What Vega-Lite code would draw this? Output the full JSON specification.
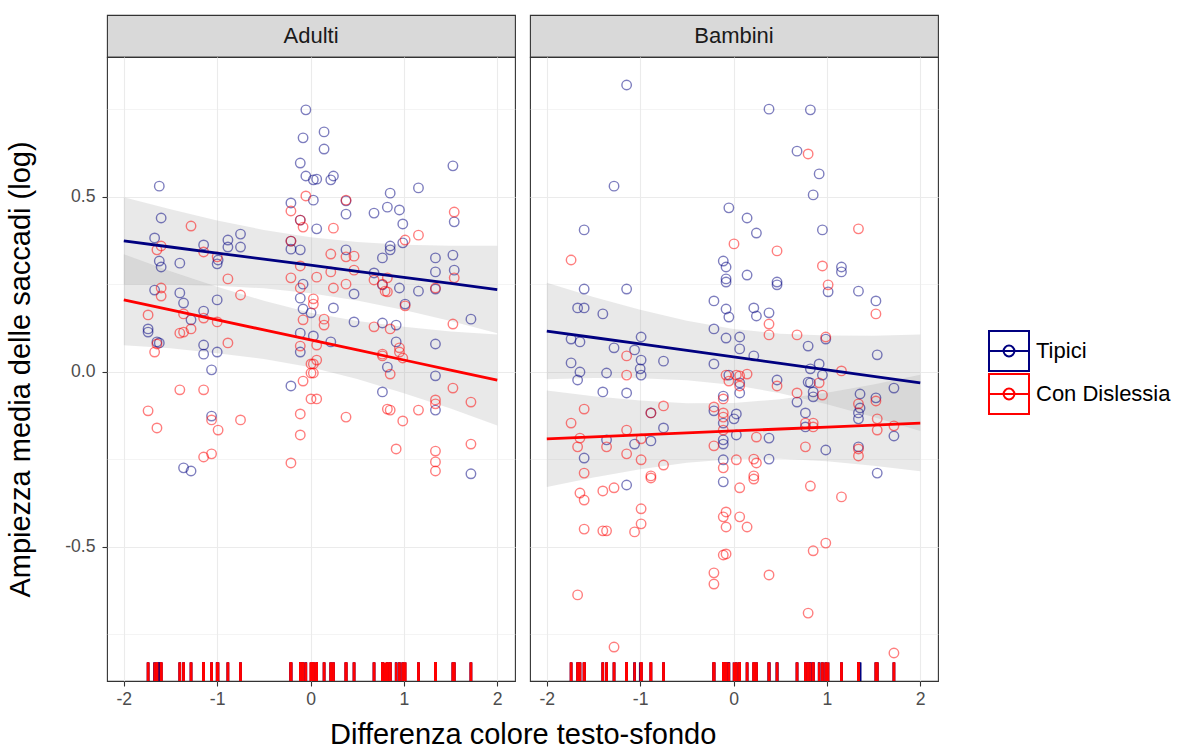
{
"$schema": "https://vega.github.io/schema/vega-lite/v6.json",
"padding": {"left": 6, "top": 14, "right": 4, "bottom": 6},
"config": {
  "font": "Liberation Sans",
  "view": {"stroke": "#333333", "strokeWidth": 1.1},
  "axis": {"grid": true, "gridColor": "#EBEBEB", "domain": false, "tickColor": "#333333", "tickSize": 5, "tickWidth": 1.1, "labelColor": "#4D4D4D", "labelFontSize": 17.6, "titleColor": "#000000", "titleFontSize": 29, "titleFontWeight": "normal"}
},
"title": {"text": "Differenza colore testo-sfondo", "orient": "bottom", "anchor": "start", "frame": "group", "dx": 223, "fontSize": 29, "fontWeight": "normal", "color": "#000000", "offset": 13},
"resolve": {"scale": {"color": "shared"}, "legend": {"color": "shared"}},
"spacing": 13,
"datasets": {
"fit_adulti": [
{"gruppo":"Tipici","x":-2,"fit":0.3745,"lo":0.2495,"hi":0.4995},
{"gruppo":"Tipici","x":-1.5,"fit":0.3571,"lo":0.2495,"hi":0.4647},
{"gruppo":"Tipici","x":-1,"fit":0.3398,"lo":0.2465,"hi":0.4331},
{"gruppo":"Tipici","x":-0.5,"fit":0.3224,"lo":0.2389,"hi":0.4059},
{"gruppo":"Tipici","x":0,"fit":0.305,"lo":0.225,"hi":0.385},
{"gruppo":"Tipici","x":0.5,"fit":0.2876,"lo":0.2041,"hi":0.3711},
{"gruppo":"Tipici","x":1,"fit":0.2703,"lo":0.177,"hi":0.3636},
{"gruppo":"Tipici","x":1.5,"fit":0.2529,"lo":0.1453,"hi":0.3605},
{"gruppo":"Tipici","x":2,"fit":0.2355,"lo":0.1105,"hi":0.3605},
{"gruppo":"Con Dislessia","x":-2,"fit":0.2061,"lo":0.0761,"hi":0.3361},
{"gruppo":"Con Dislessia","x":-1.5,"fit":0.1775,"lo":0.0675,"hi":0.2875},
{"gruppo":"Con Dislessia","x":-1,"fit":0.1488,"lo":0.0538,"hi":0.2438},
{"gruppo":"Con Dislessia","x":-0.5,"fit":0.1202,"lo":0.0372,"hi":0.2032},
{"gruppo":"Con Dislessia","x":0,"fit":0.0915,"lo":0.0135,"hi":0.1695},
{"gruppo":"Con Dislessia","x":0.5,"fit":0.0629,"lo":-0.0201,"hi":0.1459},
{"gruppo":"Con Dislessia","x":1,"fit":0.0342,"lo":-0.0608,"hi":0.1292},
{"gruppo":"Con Dislessia","x":1.5,"fit":0.0056,"lo":-0.1044,"hi":0.1156},
{"gruppo":"Con Dislessia","x":2,"fit":-0.0231,"lo":-0.1531,"hi":0.1069}
],
"fit_bambini": [
{"gruppo":"Tipici","x":-2,"fit":0.117,"lo":-0.021,"hi":0.255},
{"gruppo":"Tipici","x":-1.5,"fit":0.0985,"lo":-0.0175,"hi":0.2145},
{"gruppo":"Tipici","x":-1,"fit":0.08,"lo":-0.018,"hi":0.178},
{"gruppo":"Tipici","x":-0.5,"fit":0.0615,"lo":-0.0235,"hi":0.1465},
{"gruppo":"Tipici","x":0,"fit":0.043,"lo":-0.037,"hi":0.123},
{"gruppo":"Tipici","x":0.5,"fit":0.0245,"lo":-0.0605,"hi":0.1095},
{"gruppo":"Tipici","x":1,"fit":0.006,"lo":-0.092,"hi":0.104},
{"gruppo":"Tipici","x":1.5,"fit":-0.0125,"lo":-0.1285,"hi":0.1035},
{"gruppo":"Tipici","x":2,"fit":-0.031,"lo":-0.169,"hi":0.107},
{"gruppo":"Con Dislessia","x":-2,"fit":-0.191,"lo":-0.329,"hi":-0.053},
{"gruppo":"Con Dislessia","x":-1.5,"fit":-0.1854,"lo":-0.3014,"hi":-0.0694},
{"gruppo":"Con Dislessia","x":-1,"fit":-0.1798,"lo":-0.2778,"hi":-0.0818},
{"gruppo":"Con Dislessia","x":-0.5,"fit":-0.1741,"lo":-0.2591,"hi":-0.0891},
{"gruppo":"Con Dislessia","x":0,"fit":-0.1685,"lo":-0.2485,"hi":-0.0885},
{"gruppo":"Con Dislessia","x":0.5,"fit":-0.1629,"lo":-0.2479,"hi":-0.0779},
{"gruppo":"Con Dislessia","x":1,"fit":-0.1573,"lo":-0.2553,"hi":-0.0593},
{"gruppo":"Con Dislessia","x":1.5,"fit":-0.1516,"lo":-0.2676,"hi":-0.0356},
{"gruppo":"Con Dislessia","x":2,"fit":-0.146,"lo":-0.284,"hi":-0.008}
],
"adulti": [
{"gruppo":"Tipici","x":-1.62,"y":0.531},{"gruppo":"Tipici","x":-1.6,"y":0.44},{"gruppo":"Tipici","x":-1.67,"y":0.383},{"gruppo":"Tipici","x":-1.62,"y":0.317},{"gruppo":"Tipici","x":-1.6,"y":0.3},{"gruppo":"Tipici","x":-1.4,"y":0.311},{"gruppo":"Tipici","x":-1.145,"y":0.363},{"gruppo":"Tipici","x":-0.99,"y":0.32},{"gruppo":"Tipici","x":-1.0,"y":0.309},{"gruppo":"Tipici","x":-0.885,"y":0.377},{"gruppo":"Tipici","x":-0.885,"y":0.357},{"gruppo":"Tipici","x":-0.75,"y":0.394},{"gruppo":"Tipici","x":-0.75,"y":0.357},{"gruppo":"Tipici","x":-0.05,"y":0.749},{"gruppo":"Tipici","x":-0.08,"y":0.669},{"gruppo":"Tipici","x":-0.11,"y":0.597},{"gruppo":"Tipici","x":-0.05,"y":0.56},{"gruppo":"Tipici","x":-0.21,"y":0.483},{"gruppo":"Tipici","x":-0.11,"y":0.434},{"gruppo":"Tipici","x":-0.21,"y":0.351},{"gruppo":"Tipici","x":-0.11,"y":0.349},{"gruppo":"Tipici","x":-0.08,"y":0.251},{"gruppo":"Tipici","x":-0.21,"y":0.374},{"gruppo":"Tipici","x":0.145,"y":0.686},{"gruppo":"Tipici","x":0.145,"y":0.637},{"gruppo":"Tipici","x":0.066,"y":0.551},{"gruppo":"Tipici","x":0.03,"y":0.549},{"gruppo":"Tipici","x":0.217,"y":0.549},{"gruppo":"Tipici","x":0.245,"y":0.56},{"gruppo":"Tipici","x":0.03,"y":0.491},{"gruppo":"Tipici","x":0.38,"y":0.489},{"gruppo":"Tipici","x":0.38,"y":0.451},{"gruppo":"Tipici","x":0.68,"y":0.454},{"gruppo":"Tipici","x":0.823,"y":0.471},{"gruppo":"Tipici","x":0.853,"y":0.511},{"gruppo":"Tipici","x":0.952,"y":0.463},{"gruppo":"Tipici","x":0.988,"y":0.423},{"gruppo":"Tipici","x":1.156,"y":0.526},{"gruppo":"Tipici","x":1.525,"y":0.589},{"gruppo":"Tipici","x":1.539,"y":0.429},{"gruppo":"Tipici","x":0.066,"y":0.409},{"gruppo":"Tipici","x":0.853,"y":0.36},{"gruppo":"Tipici","x":0.853,"y":0.349},{"gruppo":"Tipici","x":0.77,"y":0.326},{"gruppo":"Tipici","x":0.988,"y":0.369},{"gruppo":"Tipici","x":0.38,"y":0.349},{"gruppo":"Tipici","x":1.338,"y":0.326},{"gruppo":"Tipici","x":1.525,"y":0.334},{"gruppo":"Tipici","x":1.338,"y":0.286},{"gruppo":"Tipici","x":1.539,"y":0.291},{"gruppo":"Tipici","x":0.68,"y":0.283},{"gruppo":"Tipici","x":-1.67,"y":0.234},{"gruppo":"Tipici","x":-1.4,"y":0.226},{"gruppo":"Tipici","x":-1.36,"y":0.197},{"gruppo":"Tipici","x":-1.0,"y":0.206},{"gruppo":"Tipici","x":-1.74,"y":0.123},{"gruppo":"Tipici","x":-1.74,"y":0.114},{"gruppo":"Tipici","x":-1.645,"y":0.086},{"gruppo":"Tipici","x":-1.62,"y":0.083},{"gruppo":"Tipici","x":-1.28,"y":0.149},{"gruppo":"Tipici","x":-1.145,"y":0.174},{"gruppo":"Tipici","x":-1.145,"y":0.077},{"gruppo":"Tipici","x":-1.145,"y":0.051},{"gruppo":"Tipici","x":-1.0,"y":0.057},{"gruppo":"Tipici","x":-1.06,"y":0.006},{"gruppo":"Tipici","x":-1.06,"y":-0.126},{"gruppo":"Tipici","x":-1.36,"y":-0.274},{"gruppo":"Tipici","x":-1.28,"y":-0.283},{"gruppo":"Tipici","x":-0.21,"y":-0.04},{"gruppo":"Tipici","x":-0.11,"y":0.111},{"gruppo":"Tipici","x":-0.08,"y":0.18},{"gruppo":"Tipici","x":-0.11,"y":0.211},{"gruppo":"Tipici","x":-0.11,"y":0.057},{"gruppo":"Tipici","x":1.718,"y":0.151},{"gruppo":"Tipici","x":1.338,"y":0.08},{"gruppo":"Tipici","x":1.338,"y":-0.011},{"gruppo":"Tipici","x":1.338,"y":-0.109},{"gruppo":"Tipici","x":0.77,"y":-0.057},{"gruppo":"Tipici","x":1.718,"y":-0.291},{"gruppo":"Tipici","x":0.917,"y":0.134},{"gruppo":"Tipici","x":0.77,"y":0.14},{"gruppo":"Tipici","x":0.466,"y":0.143},{"gruppo":"Tipici","x":0.245,"y":0.183},{"gruppo":"Tipici","x":0.466,"y":0.223},{"gruppo":"Tipici","x":1.013,"y":0.194},{"gruppo":"Tipici","x":1.156,"y":0.231},{"gruppo":"Tipici","x":1.338,"y":0.237},{"gruppo":"Tipici","x":0.917,"y":0.086},{"gruppo":"Tipici","x":0.823,"y":0.014},{"gruppo":"Tipici","x":0.217,"y":0.086},{"gruppo":"Tipici","x":0.03,"y":0.103},{"gruppo":"Tipici","x":0.005,"y":0.169},{"gruppo":"Tipici","x":0.77,"y":0.249},{"gruppo":"Tipici","x":0.952,"y":0.24},
{"gruppo":"Con Dislessia","x":-1.6,"y":0.36},{"gruppo":"Con Dislessia","x":-1.645,"y":0.349},{"gruppo":"Con Dislessia","x":-1.28,"y":0.417},{"gruppo":"Con Dislessia","x":-1.145,"y":0.343},{"gruppo":"Con Dislessia","x":-1.0,"y":0.329},{"gruppo":"Con Dislessia","x":-0.885,"y":0.266},{"gruppo":"Con Dislessia","x":-0.05,"y":0.503},{"gruppo":"Con Dislessia","x":-0.21,"y":0.46},{"gruppo":"Con Dislessia","x":-0.11,"y":0.434},{"gruppo":"Con Dislessia","x":-0.08,"y":0.414},{"gruppo":"Con Dislessia","x":-0.21,"y":0.374},{"gruppo":"Con Dislessia","x":-0.11,"y":0.303},{"gruppo":"Con Dislessia","x":-0.21,"y":0.269},{"gruppo":"Con Dislessia","x":0.38,"y":0.491},{"gruppo":"Con Dislessia","x":1.539,"y":0.457},{"gruppo":"Con Dislessia","x":0.245,"y":0.411},{"gruppo":"Con Dislessia","x":1.013,"y":0.377},{"gruppo":"Con Dislessia","x":1.156,"y":0.391},{"gruppo":"Con Dislessia","x":0.217,"y":0.337},{"gruppo":"Con Dislessia","x":0.38,"y":0.329},{"gruppo":"Con Dislessia","x":0.466,"y":0.331},{"gruppo":"Con Dislessia","x":1.539,"y":0.269},{"gruppo":"Con Dislessia","x":0.466,"y":0.291},{"gruppo":"Con Dislessia","x":0.217,"y":0.286},{"gruppo":"Con Dislessia","x":0.066,"y":0.271},{"gruppo":"Con Dislessia","x":0.68,"y":0.263},{"gruppo":"Con Dislessia","x":0.823,"y":0.269},{"gruppo":"Con Dislessia","x":0.77,"y":0.251},{"gruppo":"Con Dislessia","x":-1.6,"y":0.24},{"gruppo":"Con Dislessia","x":-1.6,"y":0.217},{"gruppo":"Con Dislessia","x":-0.75,"y":0.22},{"gruppo":"Con Dislessia","x":-1.74,"y":0.163},{"gruppo":"Con Dislessia","x":-1.645,"y":0.08},{"gruppo":"Con Dislessia","x":-1.67,"y":0.057},{"gruppo":"Con Dislessia","x":-1.4,"y":0.111},{"gruppo":"Con Dislessia","x":-1.36,"y":0.114},{"gruppo":"Con Dislessia","x":-1.28,"y":0.123},{"gruppo":"Con Dislessia","x":-1.36,"y":0.166},{"gruppo":"Con Dislessia","x":-1.145,"y":0.154},{"gruppo":"Con Dislessia","x":-1.0,"y":0.143},{"gruppo":"Con Dislessia","x":-0.885,"y":0.083},{"gruppo":"Con Dislessia","x":-1.4,"y":-0.051},{"gruppo":"Con Dislessia","x":-1.145,"y":-0.051},{"gruppo":"Con Dislessia","x":-1.74,"y":-0.111},{"gruppo":"Con Dislessia","x":-1.645,"y":-0.16},{"gruppo":"Con Dislessia","x":-1.06,"y":-0.137},{"gruppo":"Con Dislessia","x":-0.99,"y":-0.166},{"gruppo":"Con Dislessia","x":-0.75,"y":-0.137},{"gruppo":"Con Dislessia","x":-1.145,"y":-0.243},{"gruppo":"Con Dislessia","x":-1.06,"y":-0.234},{"gruppo":"Con Dislessia","x":-0.11,"y":-0.12},{"gruppo":"Con Dislessia","x":-0.11,"y":-0.18},{"gruppo":"Con Dislessia","x":-0.21,"y":-0.26},{"gruppo":"Con Dislessia","x":-0.08,"y":-0.026},{"gruppo":"Con Dislessia","x":0.005,"y":-0.003},{"gruppo":"Con Dislessia","x":0.005,"y":0.023},{"gruppo":"Con Dislessia","x":-0.08,"y":0.149},{"gruppo":"Con Dislessia","x":-0.11,"y":0.074},{"gruppo":"Con Dislessia","x":-0.11,"y":0.24},{"gruppo":"Con Dislessia","x":0.005,"y":-0.077},{"gruppo":"Con Dislessia","x":1.525,"y":0.137},{"gruppo":"Con Dislessia","x":1.525,"y":-0.046},{"gruppo":"Con Dislessia","x":1.718,"y":-0.086},{"gruppo":"Con Dislessia","x":1.338,"y":-0.08},{"gruppo":"Con Dislessia","x":1.338,"y":-0.091},{"gruppo":"Con Dislessia","x":1.156,"y":-0.109},{"gruppo":"Con Dislessia","x":0.988,"y":-0.14},{"gruppo":"Con Dislessia","x":0.823,"y":-0.106},{"gruppo":"Con Dislessia","x":0.853,"y":-0.109},{"gruppo":"Con Dislessia","x":1.718,"y":-0.206},{"gruppo":"Con Dislessia","x":1.338,"y":-0.226},{"gruppo":"Con Dislessia","x":1.338,"y":-0.257},{"gruppo":"Con Dislessia","x":1.338,"y":-0.283},{"gruppo":"Con Dislessia","x":0.917,"y":-0.22},{"gruppo":"Con Dislessia","x":0.38,"y":-0.129},{"gruppo":"Con Dislessia","x":0.066,"y":-0.077},{"gruppo":"Con Dislessia","x":0.853,"y":0.123},{"gruppo":"Con Dislessia","x":0.68,"y":0.129},{"gruppo":"Con Dislessia","x":1.013,"y":0.189},{"gruppo":"Con Dislessia","x":0.952,"y":0.069},{"gruppo":"Con Dislessia","x":0.952,"y":0.057},{"gruppo":"Con Dislessia","x":0.988,"y":0.04},{"gruppo":"Con Dislessia","x":0.77,"y":0.051},{"gruppo":"Con Dislessia","x":0.77,"y":0.046},{"gruppo":"Con Dislessia","x":0.853,"y":-0.006},{"gruppo":"Con Dislessia","x":0.066,"y":0.077},{"gruppo":"Con Dislessia","x":0.066,"y":0.034},{"gruppo":"Con Dislessia","x":0.03,"y":0.023},{"gruppo":"Con Dislessia","x":0.03,"y":-0.003},{"gruppo":"Con Dislessia","x":0.145,"y":0.151},{"gruppo":"Con Dislessia","x":0.145,"y":0.134},{"gruppo":"Con Dislessia","x":0.03,"y":0.209},{"gruppo":"Con Dislessia","x":0.03,"y":0.194},{"gruppo":"Con Dislessia","x":0.245,"y":0.24},{"gruppo":"Con Dislessia","x":0.38,"y":0.251},{"gruppo":"Con Dislessia","x":0.799,"y":0.231},{"gruppo":"Con Dislessia","x":0.823,"y":0.229},{"gruppo":"Con Dislessia","x":1.338,"y":0.24}
],
"bambini": [
{"gruppo":"Tipici","x":-1.145,"y":0.82},{"gruppo":"Tipici","x":-1.28,"y":0.531},{"gruppo":"Tipici","x":-1.6,"y":0.406},{"gruppo":"Tipici","x":-0.05,"y":0.469},{"gruppo":"Tipici","x":-0.11,"y":0.317},{"gruppo":"Tipici","x":-0.08,"y":0.3},{"gruppo":"Tipici","x":-0.08,"y":0.266},{"gruppo":"Tipici","x":0.38,"y":0.751},{"gruppo":"Tipici","x":0.823,"y":0.749},{"gruppo":"Tipici","x":0.68,"y":0.631},{"gruppo":"Tipici","x":0.917,"y":0.566},{"gruppo":"Tipici","x":0.853,"y":0.506},{"gruppo":"Tipici","x":0.145,"y":0.44},{"gruppo":"Tipici","x":0.245,"y":0.397},{"gruppo":"Tipici","x":0.952,"y":0.406},{"gruppo":"Tipici","x":1.156,"y":0.3},{"gruppo":"Tipici","x":1.156,"y":0.286},{"gruppo":"Tipici","x":0.145,"y":0.277},{"gruppo":"Tipici","x":0.466,"y":0.257},{"gruppo":"Tipici","x":-1.6,"y":0.237},{"gruppo":"Tipici","x":-1.145,"y":0.237},{"gruppo":"Tipici","x":-1.67,"y":0.183},{"gruppo":"Tipici","x":-1.6,"y":0.183},{"gruppo":"Tipici","x":-1.4,"y":0.166},{"gruppo":"Tipici","x":-1.74,"y":0.094},{"gruppo":"Tipici","x":-1.645,"y":0.086},{"gruppo":"Tipici","x":-0.99,"y":0.1},{"gruppo":"Tipici","x":-1.28,"y":0.069},{"gruppo":"Tipici","x":-1.06,"y":0.063},{"gruppo":"Tipici","x":-0.99,"y":0.034},{"gruppo":"Tipici","x":-0.75,"y":0.031},{"gruppo":"Tipici","x":-1.74,"y":0.026},{"gruppo":"Tipici","x":-1.645,"y":0.0},{"gruppo":"Tipici","x":-1.67,"y":-0.023},{"gruppo":"Tipici","x":-1.36,"y":-0.003},{"gruppo":"Tipici","x":-1.0,"y":0.009},{"gruppo":"Tipici","x":-0.99,"y":-0.009},{"gruppo":"Tipici","x":-1.4,"y":-0.057},{"gruppo":"Tipici","x":-1.145,"y":-0.06},{"gruppo":"Tipici","x":-0.885,"y":-0.117},{"gruppo":"Tipici","x":-0.75,"y":-0.16},{"gruppo":"Tipici","x":-1.36,"y":-0.194},{"gruppo":"Tipici","x":-1.06,"y":-0.206},{"gruppo":"Tipici","x":-0.885,"y":-0.197},{"gruppo":"Tipici","x":-1.6,"y":-0.246},{"gruppo":"Tipici","x":-0.08,"y":0.257},{"gruppo":"Tipici","x":-0.21,"y":0.203},{"gruppo":"Tipici","x":-0.08,"y":0.18},{"gruppo":"Tipici","x":-0.05,"y":0.157},{"gruppo":"Tipici","x":-0.21,"y":0.123},{"gruppo":"Tipici","x":-0.08,"y":0.097},{"gruppo":"Tipici","x":-0.21,"y":0.023},{"gruppo":"Tipici","x":-0.05,"y":-0.009},{"gruppo":"Tipici","x":-0.11,"y":-0.069},{"gruppo":"Tipici","x":-0.21,"y":-0.111},{"gruppo":"Tipici","x":-0.11,"y":-0.146},{"gruppo":"Tipici","x":-0.11,"y":-0.194},{"gruppo":"Tipici","x":-0.11,"y":-0.206},{"gruppo":"Tipici","x":-0.11,"y":-0.251},{"gruppo":"Tipici","x":0.466,"y":0.249},{"gruppo":"Tipici","x":1.013,"y":0.229},{"gruppo":"Tipici","x":1.338,"y":0.231},{"gruppo":"Tipici","x":1.525,"y":0.203},{"gruppo":"Tipici","x":0.217,"y":0.183},{"gruppo":"Tipici","x":0.245,"y":0.16},{"gruppo":"Tipici","x":0.38,"y":0.169},{"gruppo":"Tipici","x":0.988,"y":0.094},{"gruppo":"Tipici","x":0.799,"y":0.074},{"gruppo":"Tipici","x":0.066,"y":0.1},{"gruppo":"Tipici","x":0.066,"y":0.066},{"gruppo":"Tipici","x":0.217,"y":0.046},{"gruppo":"Tipici","x":1.539,"y":0.049},{"gruppo":"Tipici","x":0.917,"y":0.023},{"gruppo":"Tipici","x":0.823,"y":0.009},{"gruppo":"Tipici","x":0.952,"y":-0.009},{"gruppo":"Tipici","x":0.066,"y":-0.031},{"gruppo":"Tipici","x":0.066,"y":-0.06},{"gruppo":"Tipici","x":0.466,"y":-0.023},{"gruppo":"Tipici","x":0.799,"y":-0.029},{"gruppo":"Tipici","x":0.823,"y":-0.031},{"gruppo":"Tipici","x":0.853,"y":-0.057},{"gruppo":"Tipici","x":0.853,"y":-0.071},{"gruppo":"Tipici","x":0.68,"y":-0.086},{"gruppo":"Tipici","x":1.355,"y":-0.063},{"gruppo":"Tipici","x":1.718,"y":-0.046},{"gruppo":"Tipici","x":1.355,"y":-0.103},{"gruppo":"Tipici","x":1.338,"y":-0.117},{"gruppo":"Tipici","x":1.338,"y":-0.134},{"gruppo":"Tipici","x":1.525,"y":-0.074},{"gruppo":"Tipici","x":1.718,"y":-0.183},{"gruppo":"Tipici","x":0.77,"y":-0.117},{"gruppo":"Tipici","x":0.77,"y":-0.157},{"gruppo":"Tipici","x":0.03,"y":-0.12},{"gruppo":"Tipici","x":0.005,"y":-0.134},{"gruppo":"Tipici","x":0.03,"y":-0.18},{"gruppo":"Tipici","x":0.38,"y":-0.189},{"gruppo":"Tipici","x":0.988,"y":-0.223},{"gruppo":"Tipici","x":1.338,"y":-0.214},{"gruppo":"Tipici","x":0.38,"y":-0.249},{"gruppo":"Tipici","x":1.539,"y":-0.289},{"gruppo":"Tipici","x":-1.145,"y":-0.323},{"gruppo":"Tipici","x":-0.11,"y":-0.314},
{"gruppo":"Con Dislessia","x":-1.74,"y":0.32},{"gruppo":"Con Dislessia","x":0.005,"y":0.366},{"gruppo":"Con Dislessia","x":0.799,"y":0.623},{"gruppo":"Con Dislessia","x":0.466,"y":0.346},{"gruppo":"Con Dislessia","x":1.338,"y":0.409},{"gruppo":"Con Dislessia","x":0.952,"y":0.303},{"gruppo":"Con Dislessia","x":-1.145,"y":0.046},{"gruppo":"Con Dislessia","x":-1.145,"y":-0.009},{"gruppo":"Con Dislessia","x":-1.6,"y":-0.106},{"gruppo":"Con Dislessia","x":-1.74,"y":-0.146},{"gruppo":"Con Dislessia","x":-0.885,"y":-0.117},{"gruppo":"Con Dislessia","x":-0.75,"y":-0.097},{"gruppo":"Con Dislessia","x":-1.145,"y":-0.166},{"gruppo":"Con Dislessia","x":-1.645,"y":-0.189},{"gruppo":"Con Dislessia","x":-1.67,"y":-0.214},{"gruppo":"Con Dislessia","x":-1.36,"y":-0.214},{"gruppo":"Con Dislessia","x":-0.99,"y":-0.191},{"gruppo":"Con Dislessia","x":-1.145,"y":-0.234},{"gruppo":"Con Dislessia","x":-0.99,"y":-0.251},{"gruppo":"Con Dislessia","x":-0.75,"y":-0.266},{"gruppo":"Con Dislessia","x":-1.6,"y":-0.289},{"gruppo":"Con Dislessia","x":-0.885,"y":-0.297},{"gruppo":"Con Dislessia","x":-0.08,"y":-0.009},{"gruppo":"Con Dislessia","x":-0.05,"y":-0.026},{"gruppo":"Con Dislessia","x":-0.11,"y":-0.077},{"gruppo":"Con Dislessia","x":-0.21,"y":-0.1},{"gruppo":"Con Dislessia","x":-0.11,"y":-0.117},{"gruppo":"Con Dislessia","x":-0.11,"y":-0.129},{"gruppo":"Con Dislessia","x":-0.11,"y":-0.166},{"gruppo":"Con Dislessia","x":-0.21,"y":-0.211},{"gruppo":"Con Dislessia","x":-0.11,"y":-0.274},{"gruppo":"Con Dislessia","x":1.013,"y":0.249},{"gruppo":"Con Dislessia","x":1.525,"y":0.166},{"gruppo":"Con Dislessia","x":0.38,"y":0.137},{"gruppo":"Con Dislessia","x":0.38,"y":0.106},{"gruppo":"Con Dislessia","x":0.68,"y":0.106},{"gruppo":"Con Dislessia","x":0.988,"y":0.1},{"gruppo":"Con Dislessia","x":1.156,"y":0.003},{"gruppo":"Con Dislessia","x":0.145,"y":-0.006},{"gruppo":"Con Dislessia","x":0.03,"y":-0.009},{"gruppo":"Con Dislessia","x":0.066,"y":-0.011},{"gruppo":"Con Dislessia","x":0.066,"y":-0.04},{"gruppo":"Con Dislessia","x":0.466,"y":-0.04},{"gruppo":"Con Dislessia","x":0.917,"y":-0.031},{"gruppo":"Con Dislessia","x":0.68,"y":-0.06},{"gruppo":"Con Dislessia","x":0.952,"y":-0.066},{"gruppo":"Con Dislessia","x":1.338,"y":-0.091},{"gruppo":"Con Dislessia","x":1.525,"y":-0.083},{"gruppo":"Con Dislessia","x":1.539,"y":-0.134},{"gruppo":"Con Dislessia","x":1.539,"y":-0.166},{"gruppo":"Con Dislessia","x":1.718,"y":-0.154},{"gruppo":"Con Dislessia","x":0.77,"y":-0.146},{"gruppo":"Con Dislessia","x":0.853,"y":-0.146},{"gruppo":"Con Dislessia","x":0.853,"y":-0.157},{"gruppo":"Con Dislessia","x":0.245,"y":-0.186},{"gruppo":"Con Dislessia","x":0.77,"y":-0.214},{"gruppo":"Con Dislessia","x":1.338,"y":-0.22},{"gruppo":"Con Dislessia","x":1.338,"y":-0.24},{"gruppo":"Con Dislessia","x":0.03,"y":-0.251},{"gruppo":"Con Dislessia","x":0.217,"y":-0.249},{"gruppo":"Con Dislessia","x":0.245,"y":-0.26},{"gruppo":"Con Dislessia","x":0.217,"y":-0.297},{"gruppo":"Con Dislessia","x":-1.645,"y":-0.346},{"gruppo":"Con Dislessia","x":-1.6,"y":-0.366},{"gruppo":"Con Dislessia","x":-1.4,"y":-0.34},{"gruppo":"Con Dislessia","x":-1.28,"y":-0.331},{"gruppo":"Con Dislessia","x":-0.885,"y":-0.303},{"gruppo":"Con Dislessia","x":-0.99,"y":-0.391},{"gruppo":"Con Dislessia","x":-0.99,"y":-0.434},{"gruppo":"Con Dislessia","x":-1.06,"y":-0.457},{"gruppo":"Con Dislessia","x":-1.6,"y":-0.449},{"gruppo":"Con Dislessia","x":-1.4,"y":-0.454},{"gruppo":"Con Dislessia","x":-1.36,"y":-0.454},{"gruppo":"Con Dislessia","x":-1.67,"y":-0.637},{"gruppo":"Con Dislessia","x":-1.28,"y":-0.786},{"gruppo":"Con Dislessia","x":-0.08,"y":-0.4},{"gruppo":"Con Dislessia","x":-0.11,"y":-0.414},{"gruppo":"Con Dislessia","x":-0.08,"y":-0.443},{"gruppo":"Con Dislessia","x":-0.11,"y":-0.523},{"gruppo":"Con Dislessia","x":-0.08,"y":-0.52},{"gruppo":"Con Dislessia","x":-0.21,"y":-0.574},{"gruppo":"Con Dislessia","x":-0.21,"y":-0.606},{"gruppo":"Con Dislessia","x":0.066,"y":-0.331},{"gruppo":"Con Dislessia","x":0.217,"y":-0.306},{"gruppo":"Con Dislessia","x":0.066,"y":-0.414},{"gruppo":"Con Dislessia","x":0.145,"y":-0.443},{"gruppo":"Con Dislessia","x":0.823,"y":-0.326},{"gruppo":"Con Dislessia","x":1.156,"y":-0.357},{"gruppo":"Con Dislessia","x":0.988,"y":-0.489},{"gruppo":"Con Dislessia","x":0.853,"y":-0.511},{"gruppo":"Con Dislessia","x":0.38,"y":-0.58},{"gruppo":"Con Dislessia","x":0.799,"y":-0.689},{"gruppo":"Con Dislessia","x":1.718,"y":-0.803}
]
},
"hconcat": [
{"vconcat": [
  {"width": 408, "height": 42, "data": {"values": [{"panel": "Adulti"}]}, "view": {"fill": "#D9D9D9", "stroke": "#333333", "strokeWidth": 1.1},
   "mark": {"type": "text", "fontSize": 22, "color": "#1A1A1A"}, "encoding": {"text": {"field": "panel"}}},
  {"width": 408, "height": 624,
   "encoding": {
     "x": {"field": "x", "type": "quantitative", "scale": {"domain": [-2.18, 2.19], "nice": false, "zero": false},
       "axis": {"title": null, "values": [-2,-1.5,-1,-0.5,0,0.5,1,1.5,2], "format": "d", "labelPadding": 4, "labelExpr": "datum.value % 1 === 0 ? replace(datum.label, '−', '-') : ''", "tickOpacity": {"condition": {"test": "datum.value % 1 !== 0", "value": 0}, "value": 1}, "gridWidth": {"condition": {"test": "datum.value % 1 !== 0", "value": 0.55}, "value": 1.1}}}
   },
   "layer": [
    {"data": {"name": "fit_adulti"}, "mark": {"type": "area", "color": "#999999", "opacity": 0.22},
     "encoding": {"y": {"field": "lo", "type": "quantitative", "scale": {"domain": [-0.883, 0.9], "nice": false, "zero": false},
        "axis": {"title": "Ampiezza media delle saccadi (log)", "titlePadding": 29, "values": [-0.75,-0.5,-0.25,0,0.25,0.5,0.75], "format": ".1f", "labelPadding": 7, "labelExpr": "datum.value % 0.5 === 0 ? replace(datum.label, '−', '-') : ''", "tickOpacity": {"condition": {"test": "datum.value % 0.5 !== 0", "value": 0}, "value": 1}, "gridWidth": {"condition": {"test": "datum.value % 0.5 !== 0", "value": 0.55}, "value": 1.1}}},
       "y2": {"field": "hi"}, "detail": {"field": "gruppo"}}},
    {"data": {"name": "adulti"}, "mark": {"type": "point", "shape": "circle", "filled": false, "size": 90, "strokeWidth": 1.4, "opacity": 0.5},
     "encoding": {"y": {"field": "y", "type": "quantitative"},
       "color": {"field": "gruppo", "type": "nominal", "scale": {"domain": ["Tipici", "Con Dislessia"], "range": ["#000080", "#FF0000"]},
         "legend": {"title": null, "orient": "none", "legendX": 881, "legendY": 315, "symbolType": "M-1,-1H1V1H-1Z M-1,0H1 M0.27,0A0.27,0.27 0 1,1 -0.27,0A0.27,0.27 0 1,1 0.27,0", "symbolSize": 1600, "symbolStrokeWidth": 2, "symbolFillColor": "#ffffff", "symbolOpacity": 1, "labelFontSize": 22, "labelColor": "#000000", "labelOffset": 6, "rowPadding": 1, "clipHeight": 42}}}},
    {"data": {"name": "fit_adulti"}, "mark": {"type": "line", "strokeWidth": 2.8},
     "encoding": {"y": {"field": "fit", "type": "quantitative"},
       "color": {"field": "gruppo", "type": "nominal", "scale": {"domain": ["Tipici", "Con Dislessia"], "range": ["#000080", "#FF0000"]},
         "legend": {"title": null, "orient": "none", "legendX": 881, "legendY": 315, "symbolType": "M-1,-1H1V1H-1Z M-1,0H1 M0.27,0A0.27,0.27 0 1,1 -0.27,0A0.27,0.27 0 1,1 0.27,0", "symbolSize": 1600, "symbolStrokeWidth": 2, "symbolFillColor": "#ffffff", "symbolOpacity": 1, "labelFontSize": 22, "labelColor": "#000000", "labelOffset": 6, "rowPadding": 1, "clipHeight": 42}}}},
    {"data": {"name": "adulti"}, "mark": {"type": "rule", "strokeWidth": 2.5},
     "encoding": {"y": {"datum": -0.883}, "y2": {"datum": -0.83},
       "color": {"field": "gruppo", "type": "nominal", "scale": {"domain": ["Tipici", "Con Dislessia"], "range": ["#000080", "#FF0000"]},
         "legend": {"title": null, "orient": "none", "legendX": 881, "legendY": 315, "symbolType": "M-1,-1H1V1H-1Z M-1,0H1 M0.27,0A0.27,0.27 0 1,1 -0.27,0A0.27,0.27 0 1,1 0.27,0", "symbolSize": 1600, "symbolStrokeWidth": 2, "symbolFillColor": "#ffffff", "symbolOpacity": 1, "labelFontSize": 22, "labelColor": "#000000", "labelOffset": 6, "rowPadding": 1, "clipHeight": 42}}}}
   ]}
 ], "spacing": 0, "bounds": "flush"},
{"vconcat": [
  {"width": 408, "height": 42, "data": {"values": [{"panel": "Bambini"}]}, "view": {"fill": "#D9D9D9", "stroke": "#333333", "strokeWidth": 1.1},
   "mark": {"type": "text", "fontSize": 22, "color": "#1A1A1A"}, "encoding": {"text": {"field": "panel"}}},
  {"width": 408, "height": 624,
   "encoding": {
     "x": {"field": "x", "type": "quantitative", "scale": {"domain": [-2.18, 2.19], "nice": false, "zero": false},
       "axis": {"title": null, "values": [-2,-1.5,-1,-0.5,0,0.5,1,1.5,2], "format": "d", "labelPadding": 4, "labelExpr": "datum.value % 1 === 0 ? replace(datum.label, '−', '-') : ''", "tickOpacity": {"condition": {"test": "datum.value % 1 !== 0", "value": 0}, "value": 1}, "gridWidth": {"condition": {"test": "datum.value % 1 !== 0", "value": 0.55}, "value": 1.1}}}
   },
   "layer": [
    {"data": {"name": "fit_bambini"}, "mark": {"type": "area", "color": "#999999", "opacity": 0.22},
     "encoding": {"y": {"field": "lo", "type": "quantitative", "scale": {"domain": [-0.883, 0.9], "nice": false, "zero": false},
        "axis": {"title": null, "labels": false, "ticks": false, "values": [-0.75,-0.5,-0.25,0,0.25,0.5,0.75], "gridWidth": {"condition": {"test": "datum.value % 0.5 !== 0", "value": 0.55}, "value": 1.1}}},
       "y2": {"field": "hi"}, "detail": {"field": "gruppo"}}},
    {"data": {"name": "bambini"}, "mark": {"type": "point", "shape": "circle", "filled": false, "size": 90, "strokeWidth": 1.4, "opacity": 0.5},
     "encoding": {"y": {"field": "y", "type": "quantitative"},
       "color": {"field": "gruppo", "type": "nominal", "scale": {"domain": ["Tipici", "Con Dislessia"], "range": ["#000080", "#FF0000"]},
         "legend": {"title": null, "orient": "none", "legendX": 881, "legendY": 315, "symbolType": "M-1,-1H1V1H-1Z M-1,0H1 M0.27,0A0.27,0.27 0 1,1 -0.27,0A0.27,0.27 0 1,1 0.27,0", "symbolSize": 1600, "symbolStrokeWidth": 2, "symbolFillColor": "#ffffff", "symbolOpacity": 1, "labelFontSize": 22, "labelColor": "#000000", "labelOffset": 6, "rowPadding": 1, "clipHeight": 42}}}},
    {"data": {"name": "fit_bambini"}, "mark": {"type": "line", "strokeWidth": 2.8},
     "encoding": {"y": {"field": "fit", "type": "quantitative"},
       "color": {"field": "gruppo", "type": "nominal", "scale": {"domain": ["Tipici", "Con Dislessia"], "range": ["#000080", "#FF0000"]},
         "legend": {"title": null, "orient": "none", "legendX": 881, "legendY": 315, "symbolType": "M-1,-1H1V1H-1Z M-1,0H1 M0.27,0A0.27,0.27 0 1,1 -0.27,0A0.27,0.27 0 1,1 0.27,0", "symbolSize": 1600, "symbolStrokeWidth": 2, "symbolFillColor": "#ffffff", "symbolOpacity": 1, "labelFontSize": 22, "labelColor": "#000000", "labelOffset": 6, "rowPadding": 1, "clipHeight": 42}}}},
    {"data": {"name": "bambini"}, "mark": {"type": "rule", "strokeWidth": 2.5},
     "encoding": {"y": {"datum": -0.883}, "y2": {"datum": -0.83},
       "color": {"field": "gruppo", "type": "nominal", "scale": {"domain": ["Tipici", "Con Dislessia"], "range": ["#000080", "#FF0000"]},
         "legend": {"title": null, "orient": "none", "legendX": 881, "legendY": 315, "symbolType": "M-1,-1H1V1H-1Z M-1,0H1 M0.27,0A0.27,0.27 0 1,1 -0.27,0A0.27,0.27 0 1,1 0.27,0", "symbolSize": 1600, "symbolStrokeWidth": 2, "symbolFillColor": "#ffffff", "symbolOpacity": 1, "labelFontSize": 22, "labelColor": "#000000", "labelOffset": 6, "rowPadding": 1, "clipHeight": 42}}}}
   ]}
 ], "spacing": 0, "bounds": "flush"}
]
}
